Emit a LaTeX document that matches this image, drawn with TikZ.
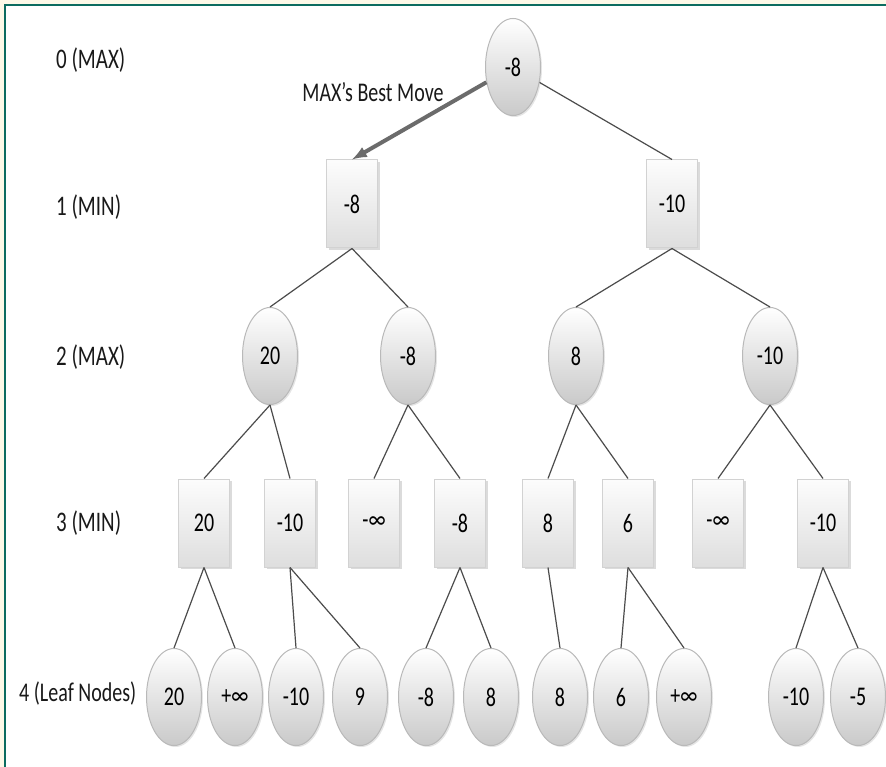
\documentclass[tikz,border=0pt]{standalone}
\usepackage{fontspec}
\setmainfont{Carlito}
\usetikzlibrary{shapes.geometric,shadows}
\definecolor{FrameTeal}{RGB}{12,108,96}
\definecolor{PageCream}{RGB}{253,249,232}
\newcommand{\tallText}[1]{\scalebox{1}[1.35]{#1}}
\begin{document}
\begin{tikzpicture}[x=1pt,y=-1pt,
    font=\fontsize{20}{24}\selectfont,
    maxnode/.style={ellipse, draw=gray!55, line width=1pt, top color=white, bottom color=gray!42,
        minimum width=55pt, minimum height=97pt, inner sep=0pt, text=black,
        drop shadow={shadow xshift=1.5pt, shadow yshift=-1.5pt, opacity=0.2}},
    minnode/.style={rectangle, draw=gray!35, line width=1pt, top color=gray!2, bottom color=gray!26,
        minimum width=51pt, minimum height=88pt, inner sep=0pt, text=black,
        drop shadow={shadow xshift=2pt, shadow yshift=-2pt, opacity=0.28}},
    treeline/.style={draw=black!70, line width=1.2pt},
    bestmove/.style={draw=black!58, line width=4pt, -latex},
    levellabel/.style={anchor=west, inner sep=0pt, text=black!90, font=\fontsize{21}{24}\selectfont}]
    \useasboundingbox (0,0) rectangle (886,767);
    \fill [PageCream] (0,0) rectangle (886,767);% page margin
    \fill [white] (5,5) rectangle (886,767);
    \draw [FrameTeal, line width=2.5pt] (5,767) -- (5,5) -- (886,5);% frame, top and left
    % level labels
    \node [levellabel] (LabelZero)  at (56,60)  {\tallText{0 (MAX)}};
    \node [levellabel] (LabelOne)   at (56,207) {\tallText{1 (MIN)}};
    \node [levellabel] (LabelTwo)   at (56,357) {\tallText{2 (MAX)}};
    \node [levellabel] (LabelThree) at (56,523) {\tallText{3 (MIN)}};
    \node [levellabel, font=\fontsize{20}{24}\selectfont] (LabelFour) at (19,693) {\tallText{4 (Leaf Nodes)}};
    % level 0
    \node [maxnode] (Root) at (513,67) {\tallText{-8}};
    % level 1
    \node [minnode] (MinLeft)  at (352,204) {\tallText{-8}};
    \node [minnode] (MinRight) at (672,204) {\tallText{-10}};
    % level 2
    \node [maxnode] (MaxA) at (270,356) {\tallText{20}};
    \node [maxnode] (MaxB) at (408,356) {\tallText{-8}};
    \node [maxnode] (MaxC) at (576,356) {\tallText{8}};
    \node [maxnode] (MaxD) at (770,356) {\tallText{-10}};
    % level 3
    \node [minnode] (MinA) at (204,523) {\tallText{20}};
    \node [minnode] (MinB) at (290,523) {\tallText{-10}};
    \node [minnode] (MinC) at (374,523) {\tallText{-∞}};
    \node [minnode] (MinD) at (460,523) {\tallText{-8}};
    \node [minnode] (MinE) at (548,523) {\tallText{8}};
    \node [minnode] (MinF) at (628,523) {\tallText{6}};
    \node [minnode] (MinG) at (718,523) {\tallText{-∞}};
    \node [minnode] (MinH) at (823,523) {\tallText{-10}};
    % level 4
    \node [maxnode] (LeafA) at (174,697) {\tallText{20}};
    \node [maxnode] (LeafB) at (235,697) {\tallText{+∞}};
    \node [maxnode] (LeafC) at (296,697) {\tallText{-10}};
    \node [maxnode] (LeafD) at (360,697) {\tallText{9}};
    \node [maxnode] (LeafE) at (426,697) {\tallText{-8}};
    \node [maxnode] (LeafF) at (491,697) {\tallText{8}};
    \node [maxnode] (LeafG) at (560,697) {\tallText{8}};
    \node [maxnode] (LeafH) at (621,697) {\tallText{6}};
    \node [maxnode] (LeafI) at (684,697) {\tallText{+∞}};
    \node [maxnode] (LeafJ) at (796,697) {\tallText{-10}};
    \node [maxnode] (LeafK) at (858,697) {\tallText{-5}};
    % connectors
    \draw [bestmove] (Root) -- (MinLeft.north);
    \node [text=black!90] (BestMoveLabel) at (373,92) {\tallText{MAX’s Best Move}};
    \draw [treeline] (Root) -- (MinRight.north);
    \draw [treeline] (MinLeft.south)  -- (MaxA.north);
    \draw [treeline] (MinLeft.south)  -- (MaxB.north);
    \draw [treeline] (MinRight.south) -- (MaxC.north);
    \draw [treeline] (MinRight.south) -- (MaxD.north);
    \draw [treeline] (MaxA.south) -- (MinA.north);
    \draw [treeline] (MaxA.south) -- (MinB.north);
    \draw [treeline] (MaxB.south) -- (MinC.north);
    \draw [treeline] (MaxB.south) -- (MinD.north);
    \draw [treeline] (MaxC.south) -- (MinE.north);
    \draw [treeline] (MaxC.south) -- (MinF.north);
    \draw [treeline] (MaxD.south) -- (MinG.north);
    \draw [treeline] (MaxD.south) -- (MinH.north);
    \draw [treeline] (MinA.south) -- (LeafA.north);
    \draw [treeline] (MinA.south) -- (LeafB.north);
    \draw [treeline] (MinB.south) -- (LeafC.north);
    \draw [treeline] (MinB.south) -- (LeafD.north);
    \draw [treeline] (MinD.south) -- (LeafE.north);
    \draw [treeline] (MinD.south) -- (LeafF.north);
    \draw [treeline] (MinE.south) -- (LeafG.north);
    \draw [treeline] (MinF.south) -- (LeafH.north);
    \draw [treeline] (MinF.south) -- (LeafI.north);
    \draw [treeline] (MinH.south) -- (LeafJ.north);
    \draw [treeline] (MinH.south) -- (LeafK.north);
\end{tikzpicture}
\end{document}
